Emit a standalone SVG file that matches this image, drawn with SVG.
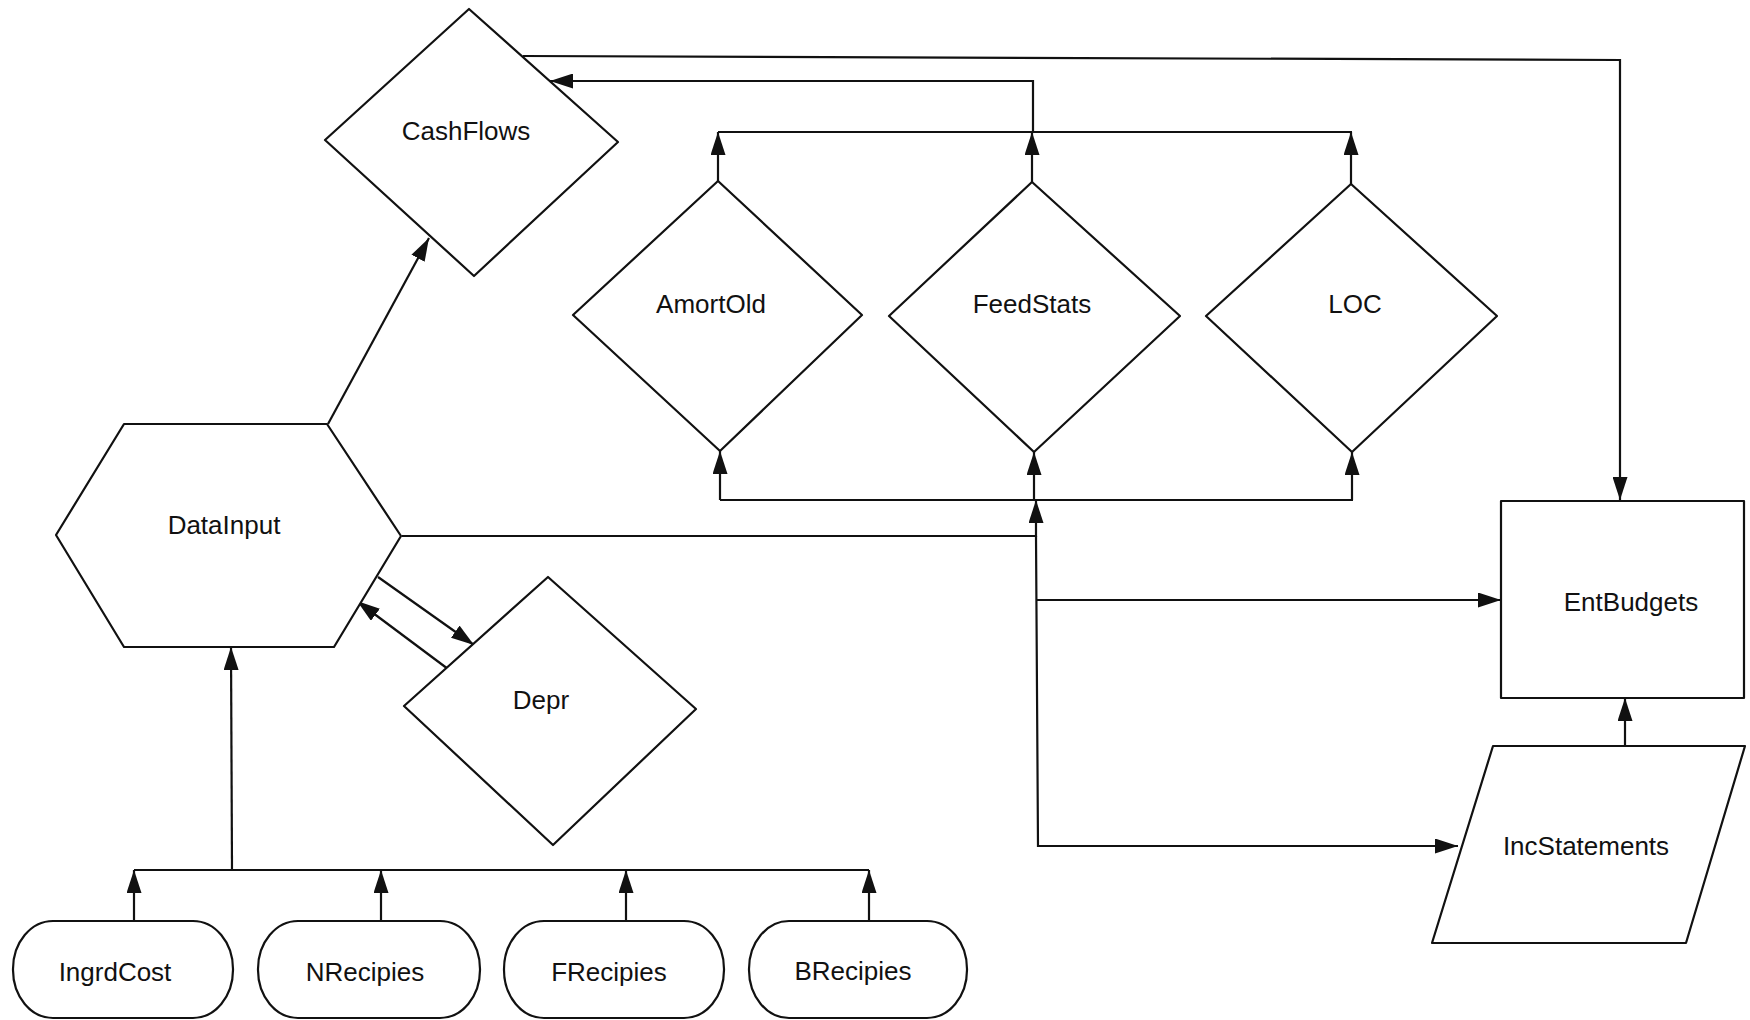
<svg xmlns="http://www.w3.org/2000/svg" width="1750" height="1020" viewBox="0 0 1750 1020">
<style>
.n{fill:#fff;stroke:#111;stroke-width:2.2;stroke-linejoin:round}
.t{font-family:"Liberation Sans",Arial,sans-serif;font-size:26px;fill:#111;text-anchor:middle;dominant-baseline:central}
.c{fill:none;stroke:#111;stroke-width:2.2}
.a{marker-end:url(#ah)}
</style>
<defs>
<marker id="ah" markerUnits="userSpaceOnUse" markerWidth="23" markerHeight="15" refX="23" refY="7.5" orient="auto">
<path d="M0,0 L23,7.5 L0,15 z" fill="#111"/>
</marker>
</defs>
<rect width="1750" height="1020" fill="#fff"/>
<g id="connectors">
<line class="c a" x1="328" y1="424" x2="429" y2="238"/>
<polyline class="c a" points="523,56 1620,60 1620,500"/>
<polyline class="c a" points="1033,132 1033,81 550,81"/>
<line class="c" x1="718" y1="132" x2="1352" y2="132"/>
<line class="c a" x1="718" y1="181" x2="718" y2="132"/>
<line class="c a" x1="1032" y1="182" x2="1032" y2="132"/>
<line class="c a" x1="1351" y1="184" x2="1351" y2="132"/>
<line class="c" x1="720" y1="500" x2="1353" y2="500"/>
<line class="c a" x1="720" y1="500" x2="720" y2="451"/>
<line class="c a" x1="1034" y1="500" x2="1034" y2="452"/>
<line class="c a" x1="1352" y1="500" x2="1352" y2="452"/>
<polyline class="c a" points="402,536 1036,536 1036,500"/>
<polyline class="c a" points="1036,536 1038,846 1458,846"/>
<line class="c a" x1="1037" y1="600" x2="1501" y2="600"/>
<line class="c a" x1="1625" y1="746" x2="1625" y2="698"/>
<line class="c a" x1="378" y1="577" x2="474" y2="645"/>
<line class="c a" x1="448" y1="669" x2="357" y2="601"/>
<line class="c" x1="134" y1="870" x2="869" y2="870"/>
<line class="c a" x1="134" y1="920" x2="134" y2="870"/>
<line class="c a" x1="381" y1="920" x2="381" y2="870"/>
<line class="c a" x1="626" y1="920" x2="626" y2="870"/>
<line class="c a" x1="869" y1="920" x2="869" y2="870"/>
<line class="c a" x1="232" y1="870" x2="231" y2="647"/>
</g>
<g id="CashFlows">
<polygon class="n" points="469,9 618,142 474,276 325,140"/>
<text class="t" x="466" y="131">CashFlows</text>
</g>
<g id="AmortOld">
<polygon class="n" points="718,181 862,315 720,451 573,315"/>
<text class="t" x="711" y="304">AmortOld</text>
</g>
<g id="FeedStats">
<polygon class="n" points="1032,182 1180,316 1034,452 889,316"/>
<text class="t" x="1032" y="304">FeedStats</text>
</g>
<g id="LOC">
<polygon class="n" points="1351,184 1497,316 1352,452 1206,316"/>
<text class="t" x="1355" y="304">LOC</text>
</g>
<g id="DataInput">
<polygon class="n" points="124,424 327,424 401,536 334,647 124,647 56,535"/>
<text class="t" x="224" y="525">DataInput</text>
</g>
<g id="Depr">
<polygon class="n" points="548,577 696,709 553,845 404,706"/>
<text class="t" x="541" y="700">Depr</text>
</g>
<g id="EntBudgets">
<rect class="n" x="1501" y="501" width="243" height="197"/>
<text class="t" x="1631" y="602">EntBudgets</text>
</g>
<g id="IncStatements">
<polygon class="n" points="1493,746 1745,746 1686,943 1432,943"/>
<text class="t" x="1586" y="846">IncStatements</text>
</g>
<g id="IngrdCost">
<rect class="n" x="13" y="921" width="220" height="97" rx="40" ry="48"/>
<text class="t" x="115" y="972">IngrdCost</text>
</g>
<g id="NRecipies">
<rect class="n" x="258" y="921" width="222" height="97" rx="40" ry="48"/>
<text class="t" x="365" y="972">NRecipies</text>
</g>
<g id="FRecipies">
<rect class="n" x="504" y="921" width="220" height="97" rx="40" ry="48"/>
<text class="t" x="609" y="972">FRecipies</text>
</g>
<g id="BRecipies">
<rect class="n" x="749" y="921" width="218" height="97" rx="40" ry="48"/>
<text class="t" x="853" y="971">BRecipies</text>
</g>
</svg>
